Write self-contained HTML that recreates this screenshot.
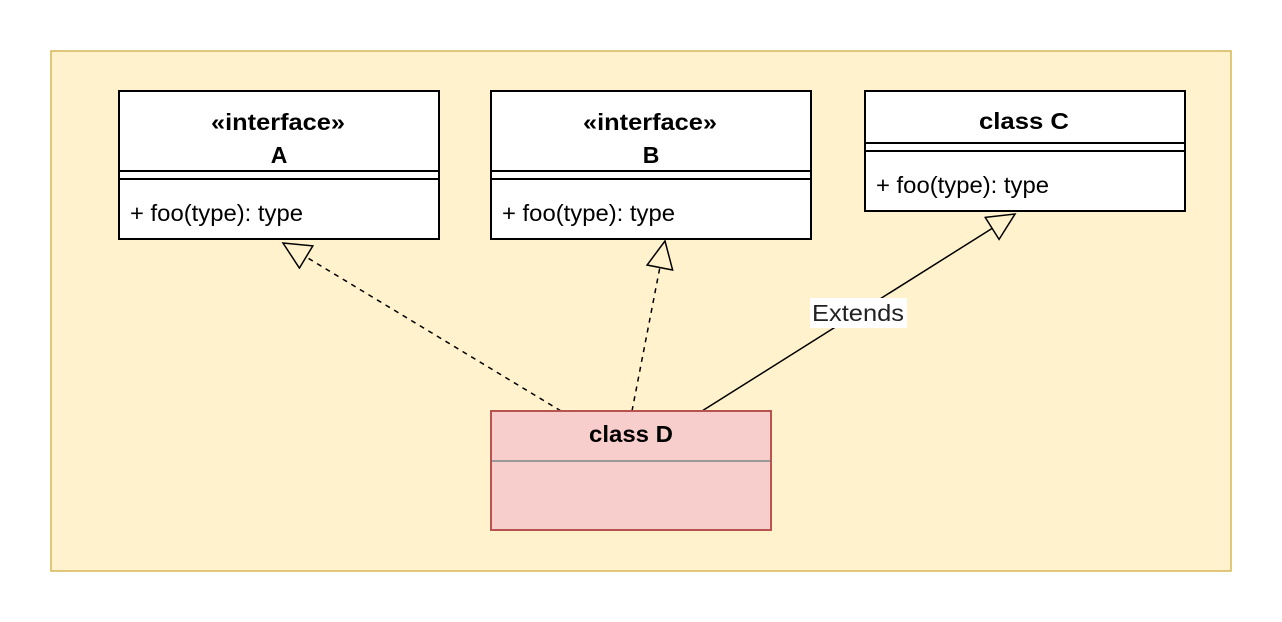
<!DOCTYPE html>
<html><head><style>
body{margin:0;background:#fff;}
svg{display:block;font-family:"Liberation Sans",Helvetica,Arial,sans-serif;}
</style></head><body>
<svg width="1282" height="622" viewBox="0 0 1282 622" xmlns="http://www.w3.org/2000/svg">
<defs>
<marker id="tri" markerUnits="userSpaceOnUse" markerWidth="32" markerHeight="30" refX="28" refY="14" orient="auto">
<path d="M1,1 L28,14 L1,27 Z" fill="#fff2cc" stroke="#000" stroke-width="1.5"/>
</marker>
</defs>
<rect x="51" y="51" width="1180" height="520" fill="#fff2cc" stroke="#d6b656" stroke-width="1.5"/>

<line x1="561" y1="411" x2="283" y2="243" stroke="#000" stroke-width="1.5" stroke-dasharray="5,5" marker-end="url(#tri)"/>
<line x1="632" y1="411" x2="665" y2="241" stroke="#000" stroke-width="1.5" stroke-dasharray="5,5" marker-end="url(#tri)"/>
<line x1="702" y1="411" x2="1015" y2="214" stroke="#000" stroke-width="1.5" marker-end="url(#tri)"/>
<rect x="810" y="298" width="97" height="30" fill="#fff"/>
<text x="858" y="321" font-size="23" text-anchor="middle" fill="#222" textLength="92" lengthAdjust="spacingAndGlyphs">Extends</text>

<g stroke="#000" stroke-width="2" fill="#fff">
<rect x="119" y="91" width="320" height="148"/>
<line x1="119" y1="171" x2="439" y2="171"/><line x1="119" y1="179" x2="439" y2="179"/>
<rect x="491" y="91" width="320" height="148"/>
<line x1="491" y1="171" x2="811" y2="171"/><line x1="491" y1="179" x2="811" y2="179"/>
<rect x="865" y="91" width="320" height="120"/>
<line x1="865" y1="143" x2="1185" y2="143"/><line x1="865" y1="151" x2="1185" y2="151"/>
</g>
<g font-size="23" fill="#000">
<text x="278" y="130" text-anchor="middle" font-weight="bold" textLength="134" lengthAdjust="spacingAndGlyphs">«interface»</text>
<text x="279" y="163" text-anchor="middle" font-weight="bold">A</text>
<text x="130" y="221" textLength="173" lengthAdjust="spacingAndGlyphs">+ foo(type): type</text>
<text x="650" y="130" text-anchor="middle" font-weight="bold" textLength="134" lengthAdjust="spacingAndGlyphs">«interface»</text>
<text x="651" y="163" text-anchor="middle" font-weight="bold">B</text>
<text x="502" y="221" textLength="173" lengthAdjust="spacingAndGlyphs">+ foo(type): type</text>
<text x="1024" y="129" text-anchor="middle" font-weight="bold" textLength="90" lengthAdjust="spacingAndGlyphs">class C</text>
<text x="876" y="193" textLength="173" lengthAdjust="spacingAndGlyphs">+ foo(type): type</text>
</g>
<rect x="491" y="411" width="280" height="119" fill="#f8cecc" stroke="#b85450" stroke-width="2"/>
<line x1="492" y1="461" x2="770" y2="461" stroke="#999" stroke-width="2"/>
<text x="631" y="442" font-size="23" text-anchor="middle" font-weight="bold" textLength="84" lengthAdjust="spacingAndGlyphs">class D</text>
</svg>
</body></html>
